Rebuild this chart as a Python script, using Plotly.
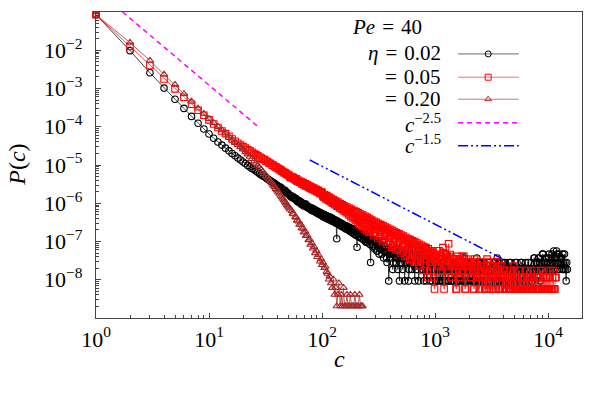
import plotly.graph_objects as go

# ---------------- data ----------------
# main sampling of cluster sizes c
c_values = [
    1, 2, 3, 4, 5, 6, 7, 8, 9, 10,
    11, 12, 13, 14, 15, 16, 17, 18, 19, 20,
    21, 22, 23, 24, 25, 26, 27, 28, 29, 30,
    31, 32, 33, 34, 35, 36, 37, 38, 39, 40,
    41, 42, 43, 44, 45, 46, 47, 48, 49, 50,
    51, 52, 54, 55, 56, 58, 59, 60, 62, 63,
    65, 66, 68, 69, 71, 72, 74, 76, 78, 79,
    81, 83, 85, 87, 89, 91, 93, 96, 98,
    100, 102, 105, 107, 110, 112, 115, 117, 120, 123,
    126, 129, 132, 135, 138, 141, 145, 148, 151, 155,
    158, 162, 166, 170, 174, 178, 182, 186, 191, 195,
    200, 204, 209, 214, 219, 224, 229, 234, 240, 245,
    251, 257, 263, 269, 275, 282, 288, 295, 302, 309,
    316, 324, 331, 339, 347, 355, 363, 372, 380, 389,
    398, 407, 417, 427, 437, 447, 457, 468, 479, 490,
    501, 513, 525, 537, 550, 562, 575, 589, 603, 617,
    631, 646, 661, 676, 692, 708, 724, 741, 759, 776,
    794, 813, 832, 851, 871, 891, 912, 933, 955, 977,
    1000, 1023, 1047, 1072, 1096, 1122, 1148, 1175, 1202, 1230,
    1259, 1288, 1318, 1349, 1380, 1413, 1445, 1479, 1514, 1549,
    1585, 1622, 1660, 1698, 1738, 1778, 1820, 1862, 1905, 1950,
    1995, 2042, 2089, 2138, 2188, 2239, 2291, 2344, 2399, 2455,
    2512, 2570, 2630, 2692, 2754, 2818, 2884, 2951, 3020, 3090,
    3162, 3236, 3311, 3388, 3467, 3548, 3631, 3715, 3802, 3890,
    3981, 4074, 4169, 4266, 4365, 4467, 4571, 4677, 4786, 4898,
    5012, 5129, 5248, 5370, 5495, 5623, 5754, 5888, 6026, 6166,
    6310, 6457, 6607, 6761, 6918, 7079, 7244, 7413, 7586, 7762,
    7943, 8128, 8318, 8511, 8710, 8913, 9120, 9333, 9550, 9772,
    10000, 10233, 10471, 10715, 10965, 11220, 11482, 11749, 12023, 12303,
    12589, 12882, 13183, 13490, 13804, 14125, 14454, 14791,
]

# extra cluster sizes in the dense (noisy) part, between the ones above
c_extra = [
    53, 57, 61, 64, 67, 70, 73, 75, 77, 80,
    82, 84, 86, 88, 90, 92, 94, 95, 97, 99,
    101, 104, 106, 108, 111, 114, 116, 119, 122, 124,
    127, 130, 133, 136, 140, 143, 146, 150, 153, 157,
    160, 164, 168, 172, 176, 180, 184, 188, 193, 197,
    202, 207, 211, 216, 221, 226, 232, 237, 243, 248,
    254, 260, 266, 272, 279, 285, 292, 299, 305, 313,
    320, 327, 335, 343, 351, 359, 367, 376, 385, 394,
    403, 412, 422, 432, 442, 452, 462, 473, 484, 495,
    507, 519, 531, 543, 556, 569, 582, 596, 610, 624,
    638, 653, 668, 684, 700, 716, 733, 750, 767, 785,
    804, 822, 841, 861, 881, 902, 923, 944, 966, 989,
    1012, 1035, 1059, 1084, 1109, 1135, 1161, 1189, 1216, 1245,
    1274, 1303, 1334, 1365, 1396, 1429, 1462, 1496, 1531, 1567,
    1603, 1641, 1679, 1718, 1758, 1799, 1841, 1884, 1928, 1972,
    2018, 2065, 2114, 2163, 2213, 2265, 2317, 2371, 2427, 2483,
    2541, 2600, 2661, 2723, 2786, 2851, 2917, 2985, 3055, 3126,
    3199, 3273, 3350, 3428, 3508, 3589, 3673, 3758, 3846, 3936,
    4027, 4121, 4217, 4315, 4416, 4519, 4624, 4732, 4842, 4955,
    5070, 5188, 5309, 5433, 5559, 5689, 5821, 5957, 6095, 6237,
    6383, 6531, 6683, 6839, 6998, 7161, 7328, 7499, 7674, 7852,
    8035, 8222, 8414, 8610, 8811, 9016, 9226, 9441, 9661, 9886,
    10116, 10351, 10593, 10839, 11092, 11350, 11614, 11885, 12162, 12445,
    12735, 13032, 13335, 13646, 13964, 14289, 14622,
]

# log10 P(c), eta = 0.02 (black circles) at c_values
black_log10P = [
    -1.07, -2.01, -2.59, -2.99, -3.28, -3.52, -3.73, -3.91, -4.06, -4.19,
    -4.30, -4.40, -4.48, -4.56, -4.63, -4.70, -4.76, -4.82, -4.87, -4.92,
    -4.96, -5.01, -5.05, -5.09, -5.12, -5.16, -5.19, -5.23, -5.26, -5.29,
    -5.31, -5.34, -5.37, -5.39, -5.41, -5.44, -5.46, -5.48, -5.51, -5.53,
    -5.56, -5.57, -5.58, -5.61, -5.65, -5.66, -5.66, -5.70, -5.73, -5.74,
    -5.77, -5.80, -5.81, -5.86, -5.84, -5.90, -5.88, -5.94, -5.93, -5.99,
    -5.97, -6.03, -6.00, -6.07, -6.05, -6.02, -6.11, -6.09, -6.15, -6.12,
    -6.19, -6.14, -6.21, -6.18, -6.25, -6.22, -6.28, -6.24, -6.31,
    -6.28, -6.35, -6.30, -6.38, -6.33, -6.41, -6.36, -6.44, -6.39, -6.47,
    -6.42, -6.50, -6.45, -6.93, -6.49, -6.56, -6.52, -6.60, -6.55, -6.63,
    -6.58, -6.67, -6.61, -6.70, -6.64, -6.74, -6.67, -6.78, -6.70, -6.82,
    -6.73, -7.15, -6.77, -6.86, -6.79, -6.92, -6.83, -6.96, -6.86, -7.02,
    -6.89, -6.80, -6.97, -7.55, -6.93, -7.08, -6.98, -7.13, -7.03, -7.25,
    -6.98, -7.19, -7.08, -7.33, -7.03, -7.25, -7.13, -7.43, -7.08, -8.03,
    -7.19, -7.33, -7.13, -7.55, -7.25, -7.43, -7.19, -7.73, -7.33, -7.25,
    -7.55, -7.13, -7.43, -8.03, -7.33, -7.55, -7.25, -7.73, -7.43, -7.19,
    -7.55, -7.33, -8.03, -7.43, -7.73, -7.25, -7.55, -7.43, -7.73, -7.33,
    -8.03, -7.55, -7.43, -7.73, -7.55, -7.33, -8.03, -7.73, -7.43, -7.55,
    -7.73, -8.03, -7.55, -7.73, -7.43, -8.03, -7.73, -7.55, -8.03, -7.73,
    -7.33, -7.73, -8.03, -7.55, -7.73, -8.03, -7.43, -7.73, -7.55, -8.03,
    -7.73, -8.03, -7.55, -7.73, -8.03, -7.73, -7.43, -8.03, -7.55, -7.73,
    -8.03, -7.73, -7.55, -8.03, -7.73, -8.03, -7.73, -7.43, -8.03, -7.55,
    -7.73, -8.03, -7.73, -8.03, -7.55, -7.73, -8.03, -7.73, -7.55, -8.03,
    -7.73, -8.03, -7.73, -7.55, -8.03, -7.43, -7.73, -8.03, -7.73, -7.55,
    -7.73, -8.03, -7.55, -8.03, -7.73, -8.03, -7.73, -7.55, -8.03, -7.73,
    -8.03, -7.55, -7.73, -8.03, -7.73, -8.03, -7.55, -7.73, -8.03, -7.73,
    -7.55, -8.03, -7.73, -8.03, -7.73, -7.55, -8.03, -7.73, -7.43, -7.73,
    -7.55, -7.73, -7.43, -8.03, -7.55, -7.33, -7.73, -7.55, -7.43, -7.73,
    -7.55, -7.33, -7.73, -7.43, -7.55, -7.25, -7.73, -7.43, -7.33, -7.55,
    -7.73, -7.43, -7.55, -7.33, -7.73, -7.55, -8.03, -7.73,
]
# log10 P(c), eta = 0.02 at c_extra
black_extra_log10P = [
    -5.83, -5.87, -5.96, -5.95, -6.04, -6.03, -6.08, -6.12, -6.10, -6.16,
    -6.13, -6.20, -6.17, -6.23, -6.20, -6.26, -6.23, -6.29, -6.25, -6.32,
    -6.33, -6.29, -6.37, -6.32, -6.40, -6.35, -6.42, -6.37, -6.45, -6.40,
    -6.48, -6.43, -6.52, -6.46, -6.55, -6.50, -6.58, -6.53, -6.62, -6.57,
    -6.64, -6.59, -6.68, -6.62, -6.72, -6.65, -6.76, -6.68, -6.80, -6.72,
    -6.84, -6.75, -6.88, -6.78, -6.90, -6.81, -6.94, -6.84, -6.99, -6.87,
    -7.03, -6.90, -7.08, -6.92, -7.13, -6.95, -7.19, -6.99, -7.25, -7.03,
    -7.33, -7.06, -7.19, -7.10, -7.43, -7.13, -7.25, -7.55, -7.19, -7.33,
    -7.43, -7.25, -7.73, -7.33, -7.19, -7.55, -7.43, -7.33, -8.03, -7.43,
    -7.33, -7.73, -7.25, -7.55, -7.43, -7.33, -8.03, -7.55, -7.33, -7.73,
    -7.43, -7.55, -7.25, -7.73, -7.43, -8.03, -7.33, -7.55, -7.43, -7.73,
    -7.43, -7.73, -8.03, -7.43, -7.73, -7.55, -7.43, -8.03, -7.55, -7.73,
    -8.03, -7.55, -7.73, -8.03, -7.73, -7.55, -8.03, -7.73, -7.43, -8.03,
    -7.73, -8.03, -7.55, -7.73, -8.03, -7.73, -8.03, -7.55, -7.73, -8.03,
    -7.55, -7.73, -8.03, -7.73, -7.43, -8.03, -7.73, -7.55, -8.03, -7.73,
    -7.73, -8.03, -7.73, -7.55, -8.03, -7.73, -8.03, -7.73, -7.55, -8.03,
    -8.03, -7.73, -7.55, -8.03, -7.73, -8.03, -7.73, -8.03, -7.55, -7.73,
    -8.03, -7.55, -7.73, -8.03, -7.73, -8.03, -7.55, -7.73, -8.03, -7.73,
    -7.55, -8.03, -7.73, -8.03, -7.73, -7.55, -8.03, -7.73, -8.03, -7.73,
    -7.73, -8.03, -7.55, -7.73, -8.03, -7.73, -7.55, -8.03, -7.73, -8.03,
    -8.03, -7.73, -7.55, -8.03, -7.73, -8.03, -7.73, -7.43, -8.03, -7.55,
    -7.73, -7.43, -7.55, -8.03, -7.73, -7.33, -7.55, -7.73, -7.43, -7.55,
    -7.43, -7.73, -7.55, -7.33, -7.73, -7.43, -7.55, -7.25, -7.73, -7.33,
    -7.55, -7.43, -7.73, -7.55, -7.33, -7.73, -7.55,
]

# log10 P(c), eta = 0.05 (red squares) at c_values
red_log10P = [
    -1.07, -1.90, -2.40, -2.75, -3.01, -3.23, -3.41, -3.57, -3.70, -3.82,
    -3.93, -4.02, -4.11, -4.18, -4.25, -4.32, -4.38, -4.43, -4.48, -4.52,
    -4.56, -4.60, -4.63, -4.67, -4.70, -4.73, -4.76, -4.79, -4.82, -4.85,
    -4.86, -4.90, -4.91, -4.95, -4.96, -5.00, -5.01, -5.04, -5.05, -5.08,
    -5.09, -5.12, -5.12, -5.16, -5.17, -5.20, -5.20, -5.23, -5.24, -5.26,
    -5.27, -5.31, -5.30, -5.35, -5.33, -5.39, -5.36, -5.42, -5.40, -5.45,
    -5.43, -5.49, -5.46, -5.52, -5.49, -5.55, -5.52, -5.58, -5.55, -5.61,
    -5.58, -5.64, -5.61, -5.67, -5.64, -5.70, -5.67, -5.74, -5.70,
    -5.72, -5.82, -5.77, -5.86, -5.80, -5.90, -5.84, -5.93, -5.87, -5.97,
    -5.90, -6.01, -5.94, -6.05, -5.97, -6.09, -6.01, -6.13, -6.04, -6.16,
    -6.07, -6.20, -6.10, -6.24, -6.13, -6.28, -6.16, -6.33, -6.19, -6.37,
    -6.22, -6.42, -6.25, -6.46, -6.28, -6.51, -6.31, -6.56, -6.34, -6.62,
    -6.37, -6.68, -6.40, -6.74, -6.44, -6.58, -6.47, -6.80, -6.50, -6.63,
    -6.53, -6.87, -6.56, -6.70, -6.59, -6.95, -6.62, -6.77, -6.65, -7.02,
    -6.68, -6.84, -6.71, -7.10, -6.74, -6.91, -6.77, -7.18, -6.80, -6.98,
    -6.83, -7.26, -6.86, -7.05, -6.89, -7.34, -6.92, -7.12, -6.95, -7.46,
    -6.98, -7.18, -7.01, -7.54, -7.04, -7.24, -7.07, -7.64, -7.10, -7.34,
    -7.13, -7.46, -7.16, -7.76, -7.19, -7.34, -7.24, -7.54, -7.24, -7.94,
    -7.34, -7.54, -7.24, -7.64, -7.39, -7.76, -7.46, -7.16, -8.24, -7.34,
    -7.64, -7.46, -7.06, -7.39, -7.54, -7.94, -7.76, -7.46, -7.64, -8.24,
    -7.54, -7.94, -7.46, -7.64, -7.39, -7.76, -7.54, -8.24, -7.46, -7.64,
    -7.76, -7.54, -7.94, -7.64, -8.24, -7.46, -7.76, -7.94, -7.64, -8.24,
    -7.54, -7.76, -7.94, -7.64, -8.24, -7.76, -7.46, -7.94, -8.24, -7.64,
    -7.94, -7.76, -8.24, -7.54, -7.94, -7.76, -7.54, -8.24, -7.94, -7.64,
    -8.24, -7.76, -7.94, -8.24, -7.94, -8.24, -7.76, -8.24, -7.94, -8.24,
    -7.64, -8.24, -7.94, -8.24, -7.76, -8.24, -7.94, -8.24, -8.24, -7.94,
    -8.24, -7.76, -8.24, -7.94, -8.24, -8.24, -7.94, -8.24, -7.76, -8.24,
    -7.94, -8.24, -8.24, -7.94, -8.24, -7.76, -8.24, -7.94, -8.24, -8.24,
    -7.94, -8.24, -7.76, -8.24, -7.94, -8.24, -8.24, -7.94,
]
# log10 P(c), eta = 0.05 at c_extra
red_extra_log10P = [
    -5.33, -5.36, -5.43, -5.44, -5.49, -5.50, -5.55, -5.54, -5.59, -5.58,
    -5.63, -5.61, -5.66, -5.64, -5.69, -5.67, -5.72, -5.70, -5.75, -5.73,
    -5.78, -5.84, -5.80, -5.89, -5.84, -5.93, -5.87, -5.96, -5.90, -6.00,
    -5.95, -6.04, -5.98, -6.08, -6.02, -6.12, -6.05, -6.16, -6.08, -6.20,
    -6.12, -6.25, -6.15, -6.30, -6.18, -6.35, -6.22, -6.40, -6.25, -6.45,
    -6.28, -6.50, -6.31, -6.56, -6.34, -6.61, -6.37, -6.67, -6.40, -6.72,
    -6.43, -6.76, -6.46, -6.62, -6.50, -6.85, -6.53, -6.67, -6.57, -6.92,
    -6.60, -6.74, -6.63, -7.00, -6.66, -6.80, -6.69, -7.08, -6.72, -6.88,
    -6.75, -7.15, -6.78, -6.95, -6.81, -7.22, -6.84, -7.02, -6.87, -7.30,
    -6.90, -7.08, -6.93, -7.39, -6.96, -7.16, -6.99, -7.46, -7.02, -7.24,
    -7.05, -7.54, -7.08, -7.34, -7.11, -7.64, -7.14, -7.39, -7.17, -7.76,
    -7.20, -7.46, -7.22, -7.94, -7.26, -7.54, -7.28, -7.64, -7.30, -8.24,
    -7.46, -7.34, -7.64, -7.24, -7.54, -7.39, -7.76, -7.29, -7.46, -7.64,
    -7.39, -7.76, -7.54, -7.34, -7.94, -7.46, -7.64, -7.54, -8.24, -7.39,
    -7.64, -7.46, -7.94, -7.54, -7.76, -7.39, -8.24, -7.64, -7.54, -7.76,
    -7.54, -7.94, -7.64, -7.76, -8.24, -7.54, -7.94, -7.64, -7.76, -7.94,
    -7.76, -8.24, -7.64, -7.94, -7.76, -8.24, -7.54, -7.94, -7.76, -8.24,
    -7.76, -7.94, -7.64, -8.24, -7.76, -7.94, -8.24, -7.64, -7.94, -8.24,
    -7.94, -8.24, -7.76, -8.24, -7.94, -8.24, -8.24, -7.94, -8.24, -7.76,
    -8.24, -7.94, -8.24, -8.24, -7.76, -8.24, -7.94, -8.24, -7.94, -8.24,
    -8.24, -8.24, -7.94, -8.24, -7.76, -8.24, -8.24, -7.94, -8.24, -8.24,
    -7.94, -8.24, -8.24, -7.76, -8.24, -7.94, -8.24, -8.24, -7.94, -8.24,
    -8.24, -7.94, -8.24, -8.24, -7.76, -8.24, -7.94,
]

# log10 P(c), eta = 0.20 (brown triangles) at c_values
brown_log10P = [
    -1.07, -1.80, -2.27, -2.63, -2.90, -3.14, -3.34, -3.52, -3.66, -3.79,
    -3.90, -4.00, -4.09, -4.17, -4.25, -4.33, -4.40, -4.47, -4.53, -4.59,
    -4.66, -4.72, -4.78, -4.84, -4.90, -4.96, -5.01, -5.07, -5.12, -5.18,
    -5.23, -5.28, -5.33, -5.38, -5.43, -5.48, -5.53, -5.57, -5.62, -5.66,
    -5.71, -5.75, -5.80, -5.84, -5.88, -5.92, -5.96, -6.00, -6.05, -6.08,
    -6.11, -6.16, -6.20, -6.27, -6.28, -6.36, -6.37, -6.45, -6.47, -6.56,
    -6.56, -6.65, -6.66, -6.76, -6.74, -6.85, -6.84, -6.96, -6.95, -7.08,
    -7.04, -7.18, -7.14, -7.30, -7.24, -7.40, -7.35, -7.52, -7.46,
    -7.61, -7.55, -7.69, -7.65, -7.79, -7.84, -7.99, -7.91, -8.09, -8.21,
    -7.99, -8.39, -8.21, -8.69, -8.39, -8.09, -8.69, -8.39, -8.69, -8.21,
    -8.69, -8.69, -8.39, -8.69, -8.69, -8.39, -8.69, -8.69, -8.69, -8.39,
    -8.69, -8.69, -8.69, -8.39, -8.69, -8.69, -8.69,
]

# reference power laws (end points)
ref25_c = [1.72, 27.9]
ref25_P = [1.0e-1, 9.4e-5]
ref15_c = [78, 3890]
ref15_P = [1.35e-5, 3.6e-8]

x_tickvals = [1, 10, 100, 1000, 10000]
x_ticktext = ["10<sup>0</sup>", "10<sup>1</sup>", "10<sup>2</sup>", "10<sup>3</sup>", "10<sup>4</sup>"]
y_tickvals = [1e-8, 1e-7, 1e-6, 1e-5, 1e-4, 1e-3, 1e-2, 1e-1]
y_ticktext = ["10<sup>−8</sup>", "10<sup>−7</sup>", "10<sup>−6</sup>", "10<sup>−5</sup>",
              "10<sup>−4</sup>", "10<sup>−3</sup>", "10<sup>−2</sup>", "10<sup>−1</sup>"]

SP = "\u2004"  # three-per-em space, mimics the TeX math spacing around "="
legend_title = "<i>Pe</i>" + SP + "=" + SP + "40"
legend_labels = ["<i>η</i>" + SP + "=" + SP + "0.02", "=" + SP + "0.05", "=" + SP + "0.20",
                 "<i>c</i><sup>−2.5</sup>", "<i>c</i><sup>−1.5</sup>"]


def merged(c_main, p_main, c_more, p_more):
    pts = list(zip(c_main[:len(p_main)], p_main)) + list(zip(c_more[:len(p_more)], p_more))
    pts.sort()
    return [p[0] for p in pts], [10 ** p[1] for p in pts]


# ---------------- figure ----------------
FONT = "Liberation Serif"
BLACK_LINE = "rgba(30,30,30,0.85)"
RED_LINE = "rgba(255,40,40,0.85)"
BROWN_LINE = "rgba(165,55,55,0.8)"

bx, by = merged(c_values, black_log10P, c_extra, black_extra_log10P)
rx, ry = merged(c_values, red_log10P, c_extra, red_extra_log10P)
wx, wy = merged(c_values, brown_log10P, [], [])

series = [
    (bx, by, "circle-open", "#000000", BLACK_LINE),
    (rx, ry, "square-open", "#ff0000", RED_LINE),
    (wx, wy, "triangle-up-open", "#a52a2a", BROWN_LINE),
]

fig = go.Figure()
for xs, ys, sym, mcol, lcol in series:
    fig.add_trace(go.Scatter(
        x=xs, y=ys, mode="lines+markers",
        line=dict(color=lcol, width=1.0),
        marker=dict(symbol=sym, size=6.5, color=mcol, line=dict(color=mcol, width=1.1)),
        cliponaxis=False, showlegend=False, hoverinfo="skip"))

fig.add_trace(go.Scatter(x=ref25_c, y=ref25_P, mode="lines",
                         line=dict(color="#ff00ff", width=1.5, dash="5px,4px"),
                         showlegend=False, hoverinfo="skip"))
fig.add_trace(go.Scatter(x=ref15_c, y=ref15_P, mode="lines",
                         line=dict(color="#0000ff", width=1.5, dash="10px,3px,2px,3px,2px,3px"),
                         showlegend=False, hoverinfo="skip"))

# ---- hand-made key (text on the left, sample on the right) ----
key_y = [0.863, 0.787, 0.715, 0.638, 0.563]
key_text_y = [0.865, 0.789, 0.715, 0.636, 0.566]
key_styles = [
    dict(line=dict(color="rgba(90,90,90,0.9)", width=1), marker="circle-open", mcol="#000000"),
    dict(line=dict(color="rgba(255,90,90,0.9)", width=1), marker="square-open", mcol="#ff0000"),
    dict(line=dict(color="rgba(190,110,110,0.9)", width=1), marker="triangle-up-open", mcol="#a52a2a"),
    dict(line=dict(color="#ff00ff", width=1.5, dash="5px,4px"), marker=None, mcol=None),
    dict(line=dict(color="#0000ff", width=1.5, dash="10px,3px,2px,3px,2px,3px"), marker=None, mcol=None),
]
for yk, st in zip(key_y, key_styles):
    fig.add_trace(go.Scatter(x=[0.745, 0.870], y=[yk, yk], mode="lines", line=st["line"],
                             xaxis="x2", yaxis="y2", showlegend=False, hoverinfo="skip"))
    if st["marker"]:
        fig.add_trace(go.Scatter(x=[0.807], y=[yk], mode="markers",
                                 marker=dict(symbol=st["marker"], size=6, color=st["mcol"],
                                             line=dict(color=st["mcol"], width=1)),
                                 xaxis="x2", yaxis="y2", showlegend=False, hoverinfo="skip"))

annotations = [dict(text=legend_title, x=0.599, y=0.952, xref="paper", yref="paper",
                    xanchor="center", yanchor="middle", showarrow=False,
                    font=dict(family=FONT, size=21, color="black"))]
for t, yk in zip(legend_labels, key_text_y):
    annotations.append(dict(text=t, x=0.714, y=yk, xref="paper", yref="paper",
                            xanchor="right", yanchor="middle", showarrow=False,
                            font=dict(family=FONT, size=21, color="black")))
annotations.append(dict(text="<i>c</i>", x=0.502, y=-0.135, xref="paper", yref="paper",
                        xanchor="center", yanchor="middle", showarrow=False,
                        font=dict(family=FONT, size=24, color="black")))
annotations.append(dict(text="<i>P</i>(<i>c</i>)", x=-0.163, y=0.5, xref="paper", yref="paper",
                        xanchor="center", yanchor="middle", showarrow=False, textangle=-90,
                        font=dict(family=FONT, size=24, color="black")))

minor_x = [k * 10 ** d for d in range(0, 5) for k in range(2, 10)]
minor_y = [k * 10.0 ** d for d in range(-9, -1) for k in range(2, 10)]

axis_common = dict(type="log", showgrid=False, zeroline=False, showline=True,
                   linecolor="#444444", linewidth=1.2, mirror=True, ticks="inside",
                   ticklen=5, tickwidth=1, tickcolor="#444444",
                   tickfont=dict(family=FONT, size=22, color="black"))

fig.update_layout(
    width=600, height=399,
    margin=dict(l=96, r=18, t=12, b=81),
    paper_bgcolor="white", plot_bgcolor="white",
    xaxis=dict(range=[0, 4.30], tickmode="array", tickvals=x_tickvals, ticktext=x_ticktext,
               ticklabelstandoff=1,
               minor=dict(tickmode="array", tickvals=minor_x, ticks="inside", ticklen=2.5,
                          tickcolor="#444444", showgrid=False),
               **axis_common),
    yaxis=dict(range=[-9, -1], tickmode="array", tickvals=y_tickvals, ticktext=y_ticktext,
               ticklabelstandoff=8,
               minor=dict(tickmode="array", tickvals=minor_y, ticks="inside", ticklen=2.5,
                          tickcolor="#444444", showgrid=False),
               **axis_common),
    xaxis2=dict(overlaying="x", anchor="y2", range=[0, 1], visible=False),
    yaxis2=dict(overlaying="y", anchor="x2", range=[0, 1], visible=False),
    annotations=annotations,
    showlegend=False,
)

fig.write_html("out.html")
